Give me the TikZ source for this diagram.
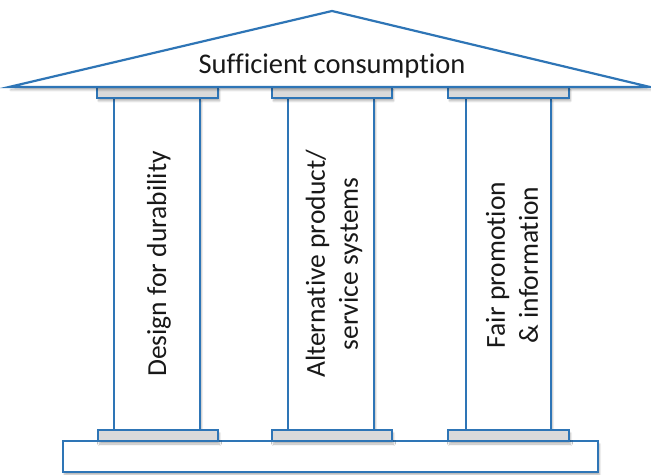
\documentclass[tikz,border=0pt]{standalone}
\usepackage{fontspec}
\setmainfont[Ligatures=NoCommon]{Carlito}
\usetikzlibrary{shadows.blur}
\definecolor{pblue}{RGB}{46,117,182}
\definecolor{capgray}{RGB}{218,218,218}
\tikzset{
  part/.style={draw=pblue, line width=2.2bp, line join=miter},
  shade/.style={blur shadow={shadow xshift=1.5bp, shadow yshift=-3bp, shadow blur steps=8, shadow opacity=30}},
  shaftbox/.style={part, fill=white, shade},
  capbox/.style={part, fill=capgray, shade},
  lbl/.style={font=\fontsize{27.5bp}{33bp}\selectfont, text=black!90, align=center, inner sep=0pt},
}
\begin{document}
\begin{tikzpicture}[x=1bp,y=-1bp]
\useasboundingbox (0,0) rectangle (651,475);
% shafts
\foreach \l/\r in {114/200, 288/374, 466/551}{
  \draw[shaftbox] (\l,98) rectangle (\r,430);
}
% top capitals
\foreach \l/\r in {97/218, 272/392, 448/569}{
  \draw[capbox] (\l,87) rectangle (\r,98);
}
% roof
\draw[part, fill=white, shade] (9,87) -- (332,11) -- (650,87) -- cycle;
% plinth
\draw[shaftbox] (63,441) rectangle (598,472);
% bottom capitals
\foreach \l/\r in {98/218, 272/392, 448/569}{
  \draw[capbox] (\l,430) rectangle (\r,441);
}
% labels
\node[lbl, font=\fontsize{28.5bp}{34bp}\selectfont] (roof) at (332,66) {Sufficient consumption};
\node[lbl, rotate=90] (c1) at (159,264) {Design for durability};
\node[lbl, rotate=90] (c2) at (334,264) {Alternative product/\\service systems};
\node[lbl, rotate=90] (c3) at (512,265) {Fair promotion\\\& information};
\end{tikzpicture}
\end{document}
